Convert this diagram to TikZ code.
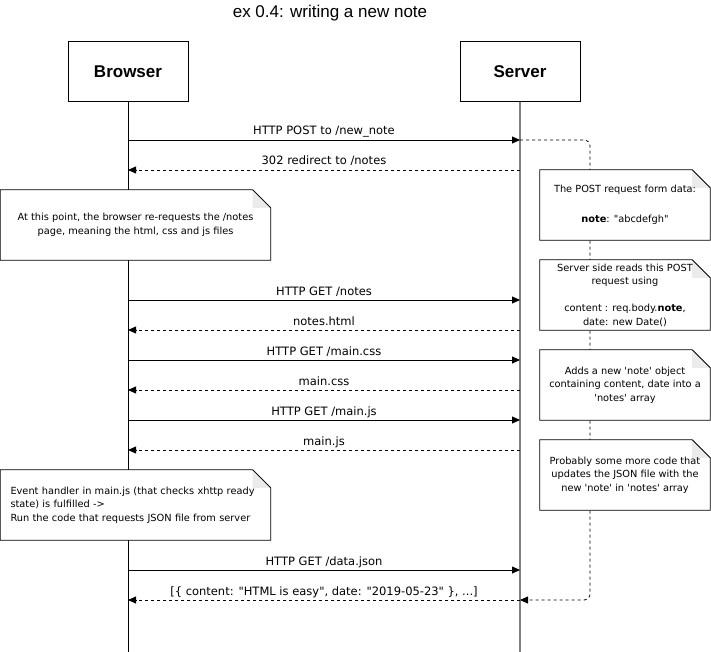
\documentclass[tikz,border=0pt]{standalone}
\usepackage{fontspec}
\setmainfont{Liberation Sans}
\newfontfamily\msgfont{DejaVu Sans}
\usetikzlibrary{arrows.meta}
\pgfdeclarelayer{background}
\pgfsetlayers{background,main}
\definecolor{lifegray}{HTML}{808080}
\definecolor{foldgray}{HTML}{EBEBEB}
\begin{document}
\begin{tikzpicture}[x=1pt,y=-1pt,
  actor/.style={draw, line width=1pt, minimum width=120pt, minimum height=60pt, inner sep=0pt, font=\fontsize{17}{20}\selectfont\bfseries},
  tip/.style={-{Triangle[length=8pt,width=7pt]}},
  msg/.style={tip, line width=0.8pt},
  reply/.style={msg, dash pattern=on 3pt off 3pt},
  lbl/.style={midway, anchor=base, yshift=5pt, inner sep=0pt, font=\msgfont\fontsize{11.5}{14}\selectfont},
  notebox/.style={minimum width=170pt, minimum height=70pt, inner sep=0pt, align=center, font=\msgfont\fontsize{9.8}{13.5}\selectfont},
  notepath/.style={draw, fill=white, line width=0.8pt},
]
\useasboundingbox (0,0) rectangle (711,652);

\node (title) at (330,13) {\fontsize{17}{20}\selectfont ex 0.4: writing a new note};
\node[actor] (browser) at (128,71.5) {Browser};
\node[actor] (server) at (520,71.5) {Server};
\coordinate (bend) at (128,652);
\coordinate (send) at (520,652);
\foreach \y in {140,170,300,330,360,390,420,450,570,600} {
  \coordinate (b\y) at (128,\y);
  \coordinate (s\y) at (520,\y);
}
\coordinate (loopA) at (590,140);
\coordinate (loopB) at (590,600);

\begin{pgfonlayer}{background}
\draw[line width=1pt] (browser.south) -- (bend);
\draw[lifegray, line width=2pt] (server.south) -- (send);
\draw[tip, line width=0.8pt, dash pattern=on 3pt off 3pt, rounded corners=6pt] (s140) -- (loopA) -- (loopB) -- (s600);
\end{pgfonlayer}

% messages
\draw[msg] (b140) -- node[lbl]{HTTP POST to /new\_note} (s140);
\draw[reply] (s170) -- node[lbl]{302 redirect to /notes} (b170);
\draw[msg] (b300) -- node[lbl]{HTTP GET /notes} (s300);
\draw[reply] (s330) -- node[lbl]{notes.html} (b330);
\draw[msg] (b360) -- node[lbl]{HTTP GET /main.css} (s360);
\draw[reply] (s390) -- node[lbl]{main.css} (b390);
\draw[msg] (b420) -- node[lbl]{HTTP GET /main.js} (s420);
\draw[reply] (s450) -- node[lbl]{main.js} (b450);
\draw[msg] (b570) -- node[lbl]{HTTP GET /data.json} (s570);
\draw[reply] (s600) -- node[lbl]{[\{ content: "HTML is easy", date: "2019-05-23" \}, ...]} (b600);

% notes
\node[notebox] (n1) at (625,205) {The POST request form data:\\[16pt]\textbf{note}: "abcdefgh"};
\node[notebox] (n2) at (625,295) {Server side reads this POST\\request using\\[13.5pt]content : req.body.\textbf{note},\\date: new Date()};
\node[notebox] (n3) at (625,385) {Adds a new \textquotesingle note\textquotesingle{} object\\containing content, date into a\\\textquotesingle notes\textquotesingle{} array};
\node[notebox] (n4) at (625,475) {Probably some more code that\\updates the JSON file with the\\new \textquotesingle note\textquotesingle{} in \textquotesingle notes\textquotesingle{} array};
\node[notebox, minimum width=270pt] (nA) at (135.5,225) {At this point, the browser re-requests the /notes\\page, meaning the html, css and js files};
\node[notebox, align=left, text width=250pt, inner xsep=10pt] (nB) at (135.5,505) {Event handler in main.js (that checks xhttp ready\\state) is fulfilled -{}>\\Run the code that requests JSON file from server};

\begin{pgfonlayer}{background}
\foreach \n in {n1,n2,n3,n4,nA,nB} {
  \draw[notepath] (\n.north west) -- ([xshift=-18pt]\n.north east) -- ([yshift=-18pt]\n.north east) -- (\n.south east) -- (\n.south west) -- cycle;
  \fill[foldgray] ([xshift=-18pt]\n.north east) -- ([xshift=-18pt,yshift=-18pt]\n.north east) -- ([yshift=-18pt]\n.north east) -- cycle;
  \draw[line width=0.8pt] ([xshift=-18pt]\n.north east) -- ([yshift=-18pt]\n.north east);
}
\end{pgfonlayer}
\end{tikzpicture}
\end{document}
